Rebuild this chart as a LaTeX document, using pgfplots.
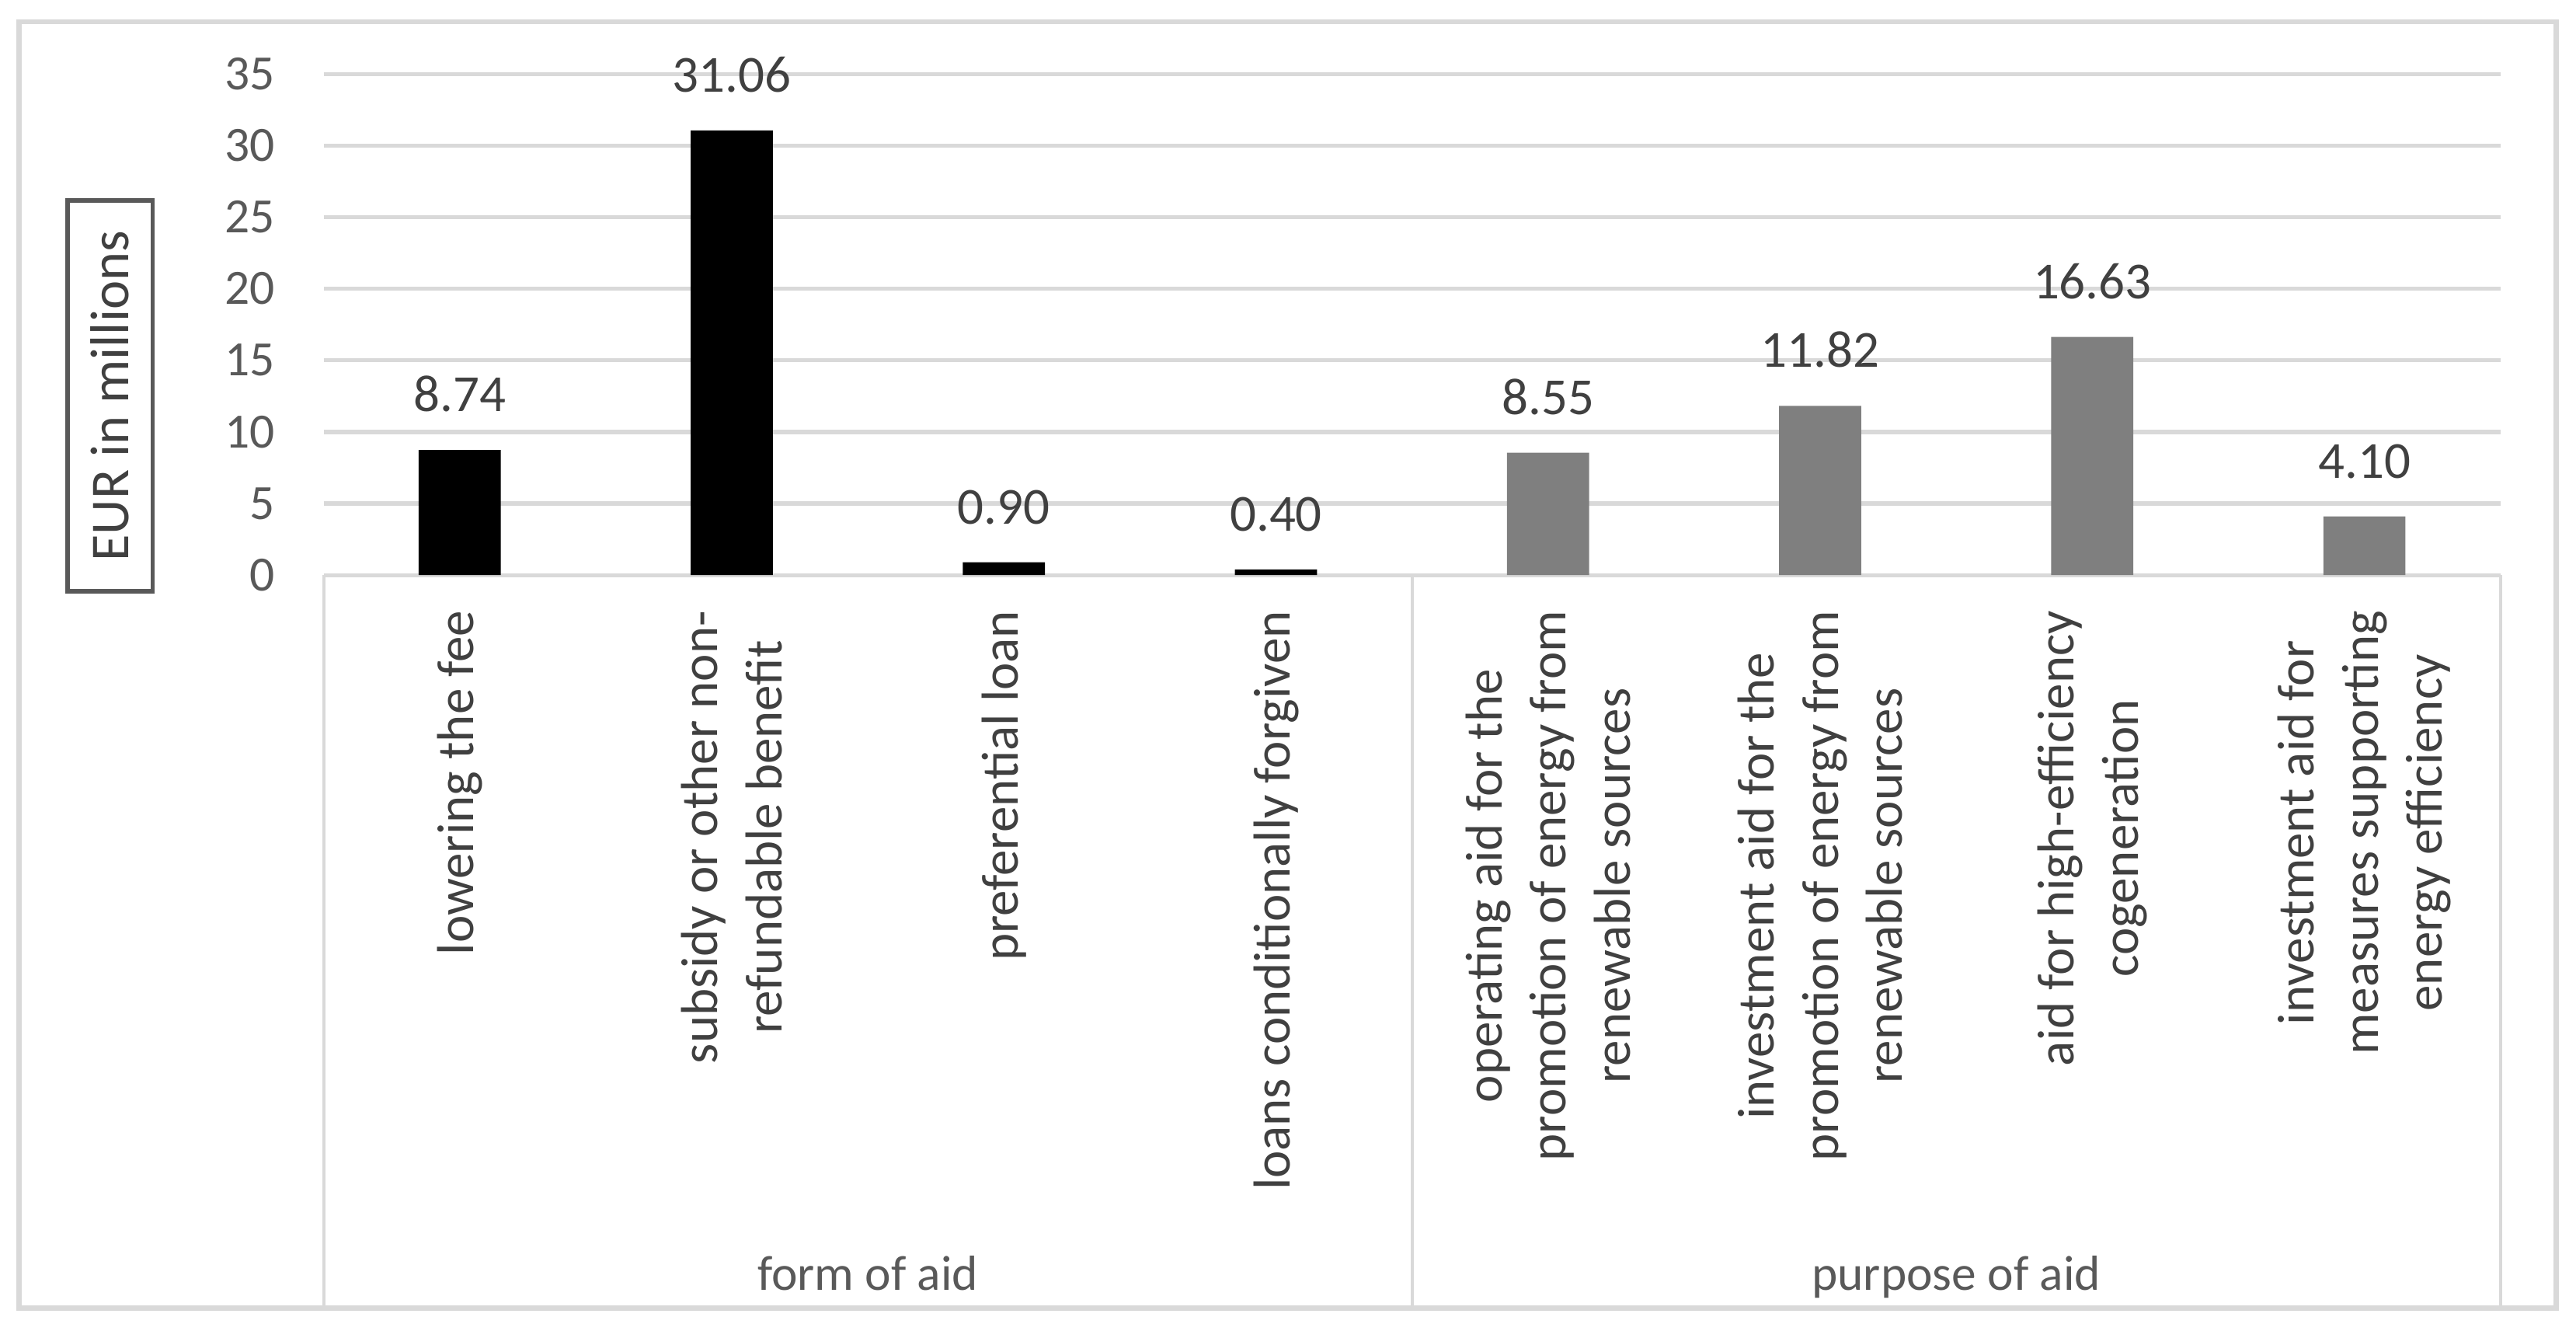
\documentclass[border=0pt]{standalone}
\usepackage{fontspec}
\setmainfont{Carlito}
\usepackage{pgfplots}
\pgfplotsset{compat=1.18}

\definecolor{gridgray}{HTML}{D9D9D9}
\definecolor{bargray}{HTML}{7F7F7F}
\definecolor{txtdark}{HTML}{404040}
\definecolor{txtmid}{HTML}{595959}

\begin{document}
\begin{tikzpicture}
  \begin{axis}[
      name=ax,
      at={(0,0)}, anchor=south west,
      scale only axis,
      width=397.5pt, height=91.5pt,
      xmin=-0.5, xmax=7.5,
      ymin=0, ymax=35,
      ytick={0,5,...,35},
      xtick={0,...,7},
      xticklabels={
        {lowering the fee},
        {subsidy or other non-\\refundable benefit},
        {preferential loan},
        {loans conditionally forgiven},
        {operating aid for the\\promotion of energy from\\renewable sources},
        {investment aid for the\\promotion of energy from\\renewable sources},
        {aid for high-efficiency\\cogeneration},
        {investment aid for\\measures supporting\\energy efficiency}},
      major tick length=0pt,
      axis line style={draw=none},
      ymajorgrids,
      grid style={gridgray, line width=0.75pt},
      /pgf/number format/assume math mode=true,
      yticklabel style={font=\fontsize{9}{10}\selectfont, text=txtmid, xshift=-5.4pt},
      xticklabel style={rotate=90, anchor=east, align=center, inner xsep=6.3pt,
                        font=\fontsize{9.5}{11.7}\selectfont, text=txtdark},
      nodes near coords={\pgfmathprintnumber[fixed,fixed zerofill,precision=2]{\pgfplotspointmeta}},
      every node near coord/.append style={anchor=south, font=\fontsize{9.5}{11}\selectfont,
                                           text=txtdark, yshift=3.4pt},
      clip=false,
    ]
    % form of aid
    \addplot[ybar, bar width=15pt, fill=black, draw=none]
      coordinates {(0,8.74) (1,31.06) (2,0.90) (3,0.40)};
    % purpose of aid
    \addplot[ybar, bar width=15pt, fill=bargray, draw=none]
      coordinates {(4,8.55) (5,11.82) (6,16.63) (7,4.10)};
  \end{axis}

  % group box below the categories
  \draw[gridgray, line width=0.6pt] (ax.south west) -- ++(0,-133.8pt);
  \draw[gridgray, line width=0.6pt] ([xshift=198.75pt]ax.south west) -- ++(0,-133.8pt);
  \draw[gridgray, line width=0.6pt] (ax.south east) -- ++(0,-133.8pt);
  \node[anchor=base, font=\fontsize{9}{10}\selectfont, text=txtmid]
    at ([xshift=99.375pt, yshift=-130.5pt]ax.south west) {form of aid};
  \node[anchor=base, font=\fontsize{9}{10}\selectfont, text=txtmid]
    at ([xshift=298.125pt, yshift=-130.5pt]ax.south west) {purpose of aid};

  % boxed y label
  \node[draw=txtmid, line width=0.8pt, rotate=90, minimum width=71.4pt, minimum height=15.6pt,
        inner sep=0pt, font=\fontsize{10}{12}\selectfont, text=txtdark]
    at ([shift={(-39pt,32.7pt)}]ax.south west) {EUR in millions};

  % outer frame
  \draw[gridgray, line width=0.9pt]
    ([shift={(-55.6pt,-133.8pt)}]ax.south west) rectangle ([shift={(10.2pt,9.5pt)}]ax.north east);

  \pgfresetboundingbox
  \path ([shift={(-59.1pt,-138pt)}]ax.south west) rectangle ([shift={(13.8pt,13.5pt)}]ax.north east);
\end{tikzpicture}
\end{document}
